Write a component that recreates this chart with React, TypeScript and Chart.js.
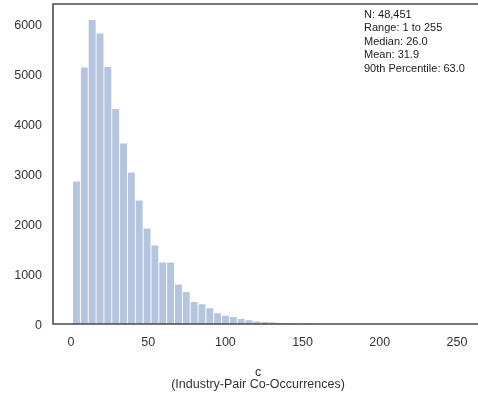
import React, { useEffect, useRef } from 'react';
import { Chart, registerables } from 'chart.js';

Chart.register(...registerables);

// Histogram definition: 50 bins spanning the data range 1..255
const binStart = 1;
const binEnd = 255;
const binCounts = [
  2850, 5130, 6080, 5810, 5140, 4300, 3610, 3030, 2470, 1910,
  1570, 1230, 1230, 790, 640, 440, 395, 315, 215, 165,
  140, 100, 75, 50, 42, 32, 20, 13, 9, 7,
  5, 4, 3, 3, 2, 2, 1, 1, 1, 1,
  1, 0, 1, 0, 0, 1, 0, 0, 0, 1,
];
const xTickValues = [0, 50, 100, 150, 200, 250];
const yTickValues = [0, 1000, 2000, 3000, 4000, 5000, 6000];
const xMin = -11.66;
const xMax = 253.9;
const yMin = 0;
const yMax = 6400;
const statsLines = [
  'N: 48,451',
  'Range: 1 to 255',
  'Median: 26.0',
  'Mean: 31.9',
  '90th Percentile: 63.0',
];
const xTitleLines = ['c', '(Industry-Pair Co-Occurrences)'];

const FONT = '"Liberation Sans", Arial, Helvetica, sans-serif';
const TEXT_COLOR = '#333333';

export default function App() {
  const canvasRef = useRef<HTMLCanvasElement | null>(null);

  useEffect(() => {
    const canvas = canvasRef.current;
    if (!canvas) return;
    const binWidth = (binEnd - binStart) / binCounts.length;
    const points = binCounts.map((c, i) => ({ x: binStart + binWidth * (i + 0.5), y: c }));

    const framePlugin = {
      id: 'frame',
      afterDatasetsDraw(chart: any) {
        const { ctx, chartArea } = chart;
        const w = chart.width;
        ctx.save();
        ctx.strokeStyle = '#4a4a4a';
        ctx.lineWidth = 1.6;
        ctx.beginPath();
        ctx.moveTo(w, chartArea.top);
        ctx.lineTo(chartArea.left, chartArea.top);
        ctx.lineTo(chartArea.left, chartArea.bottom);
        ctx.lineTo(w, chartArea.bottom);
        ctx.stroke();
        ctx.restore();
      },
      afterDraw(chart: any) {
        const { ctx, chartArea } = chart;
        ctx.save();
        ctx.fillStyle = '#222222';
        ctx.font = `11px ${FONT}`;
        ctx.textAlign = 'left';
        ctx.textBaseline = 'middle';
        statsLines.forEach((line, i) => {
          ctx.fillText(line, chartArea.left + 311, chartArea.top + 10.5 + i * 13.5);
        });
        ctx.restore();
      },
    };

    const chart = new Chart(canvas, {
      type: 'bar',
      data: {
        datasets: [
          {
            data: points,
            backgroundColor: '#b5c5df',
            borderWidth: 0,
            categoryPercentage: 1,
            barPercentage: 0.88,
          },
        ],
      },
      options: {
        responsive: false,
        animation: false,
        devicePixelRatio: 1,
        layout: { padding: { top: 4, right: 15, bottom: 0, left: 0 } },
        plugins: {
          legend: { display: false },
          tooltip: { enabled: false },
          title: { display: false },
        },
        scales: {
          x: {
            type: 'linear',
            min: xMin,
            max: xMax,
            offset: false,
            grid: { display: false, drawTicks: false, offset: false },
            border: { display: false },
            afterBuildTicks: (scale: any) => {
              scale.ticks = xTickValues.map((v) => ({ value: v }));
            },
            afterFit: (scale: any) => {
              scale.height = 78;
              scale.paddingLeft = 0;
              scale.paddingRight = 0;
            },
            ticks: {
              padding: 11,
              maxRotation: 0,
              autoSkip: false,
              color: TEXT_COLOR,
              font: { family: FONT, size: 12.5 },
              callback: (v: any) => String(v),
            },
            title: {
              display: true,
              text: xTitleLines,
              color: TEXT_COLOR,
              font: { family: FONT, size: 12.5, lineHeight: 1.0 },
              padding: { top: 0, bottom: 10.75 },
            },
          },
          y: {
            type: 'linear',
            min: yMin,
            max: yMax,
            grid: { display: false, drawTicks: false },
            border: { display: false },
            afterBuildTicks: (scale: any) => {
              scale.ticks = yTickValues.map((v) => ({ value: v }));
            },
            afterFit: (scale: any) => {
              scale.width = 53;
              scale.paddingTop = 0;
              scale.paddingBottom = 0;
            },
            ticks: {
              padding: 11,
              labelOffset: 1.5,
              autoSkip: false,
              color: TEXT_COLOR,
              font: { family: FONT, size: 12.5 },
              callback: (v: any) => String(v),
            },
          },
        },
      },
      plugins: [framePlugin],
    } as any);

    return () => chart.destroy();
  }, []);

  return (
    <div style={{ position: 'absolute', left: 0, top: 0, width: 478, height: 402, background: '#ffffff' }}>
      <canvas ref={canvasRef} width={478} height={402} style={{ display: 'block', width: 478, height: 402 }} />
    </div>
  );
}
